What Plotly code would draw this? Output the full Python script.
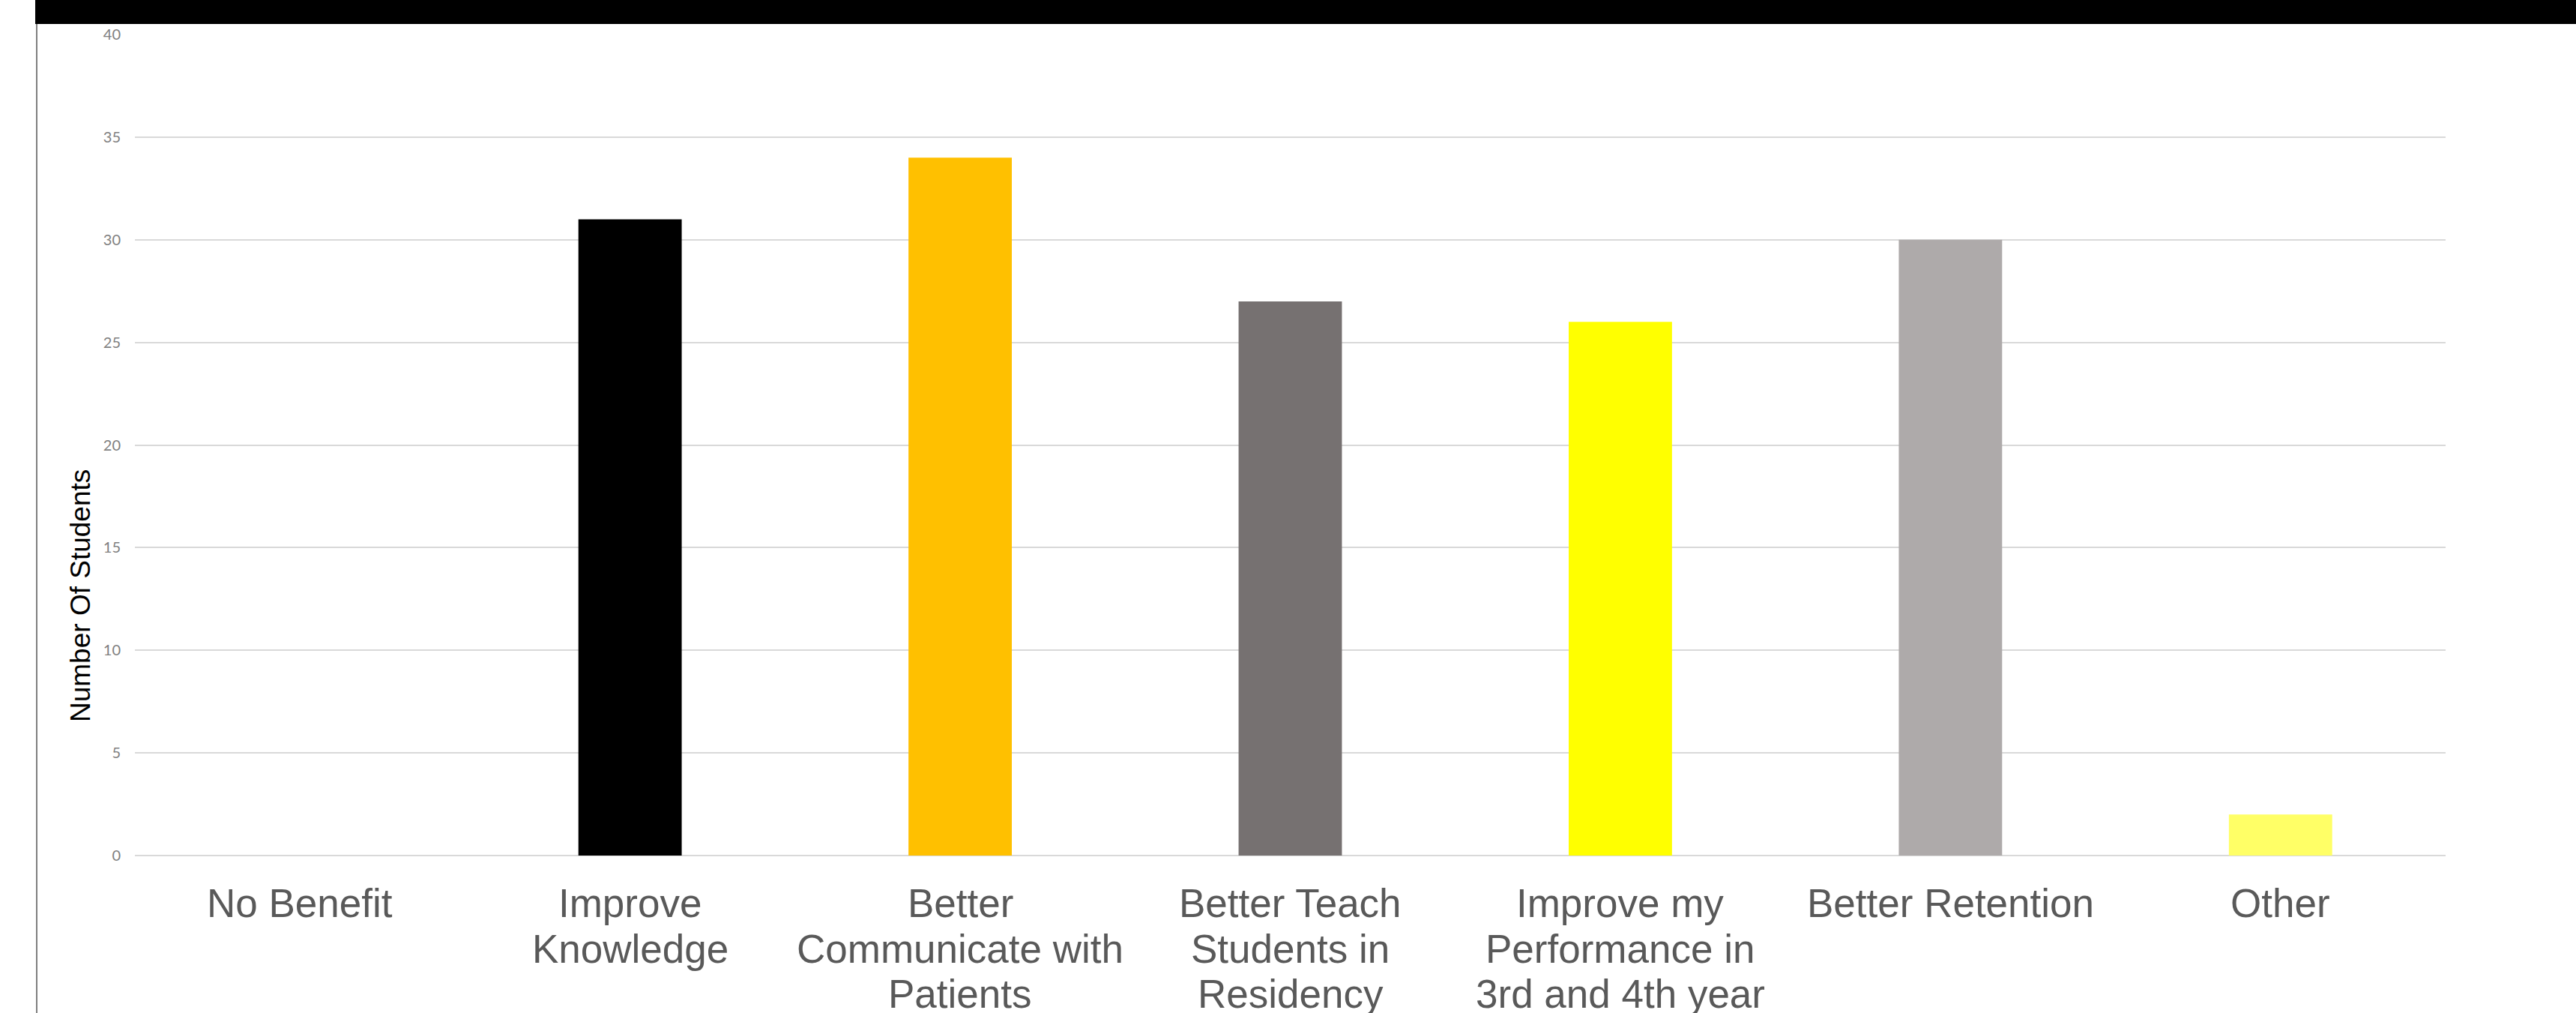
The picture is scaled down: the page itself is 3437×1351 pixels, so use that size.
import plotly.graph_objects as go

categories = [
    "No Benefit",
    "Improve Knowledge",
    "Better Communicate with Patients",
    "Better Teach Students in Residency",
    "Improve my Performance in 3rd and 4th year",
    "Better Retention",
    "Other",
]
label_lines = [
    ["No Benefit"],
    ["Improve", "Knowledge"],
    ["Better", "Communicate with", "Patients"],
    ["Better Teach", "Students in", "Residency"],
    ["Improve my", "Performance in", "3rd and 4th year"],
    ["Better Retention"],
    ["Other"],
]
values = [0, 31, 34, 27, 26, 30, 2]
y_ticks = [0, 5, 10, 15, 20, 25, 30, 35, 40]

bar_colors = ["#4472C4", "#000000", "#FFC000", "#767171", "#FFFF00", "#AEAAAA", "#FFFF66"]

W, H = 3437, 1351
L, R, T, B = 180, 3263, 46, 1141
pw, ph = R - L, B - T


def px(x):
    return (x - L) / pw


def py(y):
    return (B - y) / ph


fig = go.Figure()
fig.add_trace(go.Bar(
    x=categories,
    y=values,
    marker=dict(color=bar_colors, line=dict(width=0)),
    width=0.313,
    showlegend=False,
    hoverinfo="x+y",
))

annotations = [
    dict(text="Number Of Students", xref="paper", yref="paper",
         x=px(107), y=py(795), xanchor="center", yanchor="middle",
         textangle=-90, showarrow=False,
         font=dict(family="Liberation Sans, Arial", size=37, color="black")),
]
first_line_center = 1204.6
line_step = 60.5
for cat, lines in zip(categories, label_lines):
    for j, line in enumerate(lines):
        annotations.append(dict(
            text=line, xref="x", yref="paper", x=cat,
            y=py(first_line_center + line_step * j),
            xanchor="center", yanchor="middle", showarrow=False,
            font=dict(family="Liberation Sans, Arial", size=53, color="#595959"),
        ))

fig.update_layout(
    width=W,
    height=H,
    margin=dict(l=L, r=W - R, t=T, b=H - B, pad=0),
    paper_bgcolor="white",
    plot_bgcolor="white",
    bargap=0.687,
    xaxis=dict(
        type="category",
        showgrid=False,
        showline=False,
        zeroline=False,
        ticks="",
        showticklabels=False,
        fixedrange=True,
    ),
    yaxis=dict(
        range=[0, 40],
        tickvals=y_ticks,
        ticktext=[str(v) for v in y_ticks],
        showgrid=True,
        gridcolor="#D9D9D9",
        gridwidth=2,
        zeroline=True,
        zerolinecolor="#D9D9D9",
        zerolinewidth=2,
        showline=False,
        ticks="",
        tickfont=dict(family="Lato, Open Sans", size=20, color="#7F7F7F"),
        ticklabelstandoff=18,
        fixedrange=True,
    ),
    shapes=[
        dict(type="rect", xref="paper", yref="paper",
             x0=px(47), x1=px(W + 5), y0=py(32), y1=py(-5),
             fillcolor="black", line=dict(width=0), layer="above"),
        dict(type="line", xref="paper", yref="paper",
             x0=px(49), x1=px(49), y0=py(32), y1=py(H + 5),
             line=dict(color="#7F7F7F", width=2)),
    ],
    annotations=annotations,
)

fig.write_html("out.html")
